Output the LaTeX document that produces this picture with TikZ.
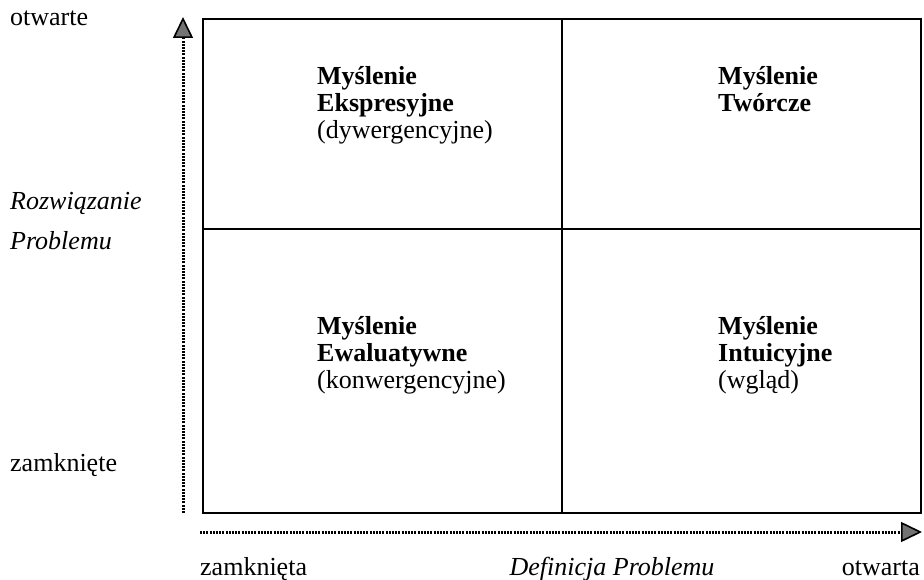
\documentclass[tikz,border=0pt]{standalone}
\usepackage{fontspec}
\setmainfont{Liberation Serif}
\usetikzlibrary{arrows.meta}
\begin{document}
\begin{tikzpicture}[x=1pt,y=-1pt,
  lbl/.style={inner sep=0pt, font=\fontsize{26}{28}\selectfont},
  quad/.style={inner sep=0pt, anchor=base west, align=left, font=\fontsize{26}{27}\selectfont},
  frame/.style={line width=2pt},
  axis/.style={line width=3pt, dash pattern=on 2pt off 1.2pt,
    -{Triangle[length=21pt,width=20pt,fill=black!55,line width=1.6pt]}}]
\useasboundingbox (0,0) rectangle (924,580);
% grid
\coordinate (tl) at (203,19);
\coordinate (br) at (921,513);
\coordinate (mt) at (562,19);
\coordinate (mb) at (562,513);
\coordinate (ml) at (203,229);
\coordinate (mr) at (921,229);
\draw[frame] (tl) rectangle (br);
\draw[frame, line width=2.4pt] (mt) -- (mb);
\draw[frame] (ml) -- (mr);
% axes
\coordinate (vy0) at (183,513);
\coordinate (vy1) at (183,17);
\coordinate (hx0) at (200,532);
\coordinate (hx1) at (922,532);
\draw[axis] (vy0) -- (vy1);
\draw[axis] (hx0) -- (hx1);
% quadrant texts (base = baseline of last line)
\node[quad] (q1) at (317,139) {\textbf{Myślenie}\\\textbf{Ekspresyjne}\\(dywergencyjne)};
\node[quad] (q2) at (718,112) {\textbf{Myślenie}\\\textbf{Twórcze}};
\node[quad] (q3) at (317,388) {\textbf{Myślenie}\\\textbf{Ewaluatywne}\\(konwergencyjne)};
\node[quad] (q4) at (718,388) {\textbf{Myślenie}\\\textbf{Intuicyjne}\\(wgląd)};
% axis labels
\node[lbl, anchor=base west] (otw) at (10,26) {otwarte};
\node[lbl, anchor=base west] (rozw) at (10,210) {\itshape Rozwiązanie};
\node[lbl, anchor=base west] (prob) at (10,250) {\itshape Problemu};
\node[lbl, anchor=base west] (zam) at (10,471) {zamknięte};
\node[lbl, anchor=base west] (zama) at (200,575) {zamknięta};
\node[lbl, anchor=base] (def) at (612,575) {\itshape Definicja Problemu};
\node[lbl, anchor=base east] (otwa) at (920,575) {otwarta};
\end{tikzpicture}
\end{document}
